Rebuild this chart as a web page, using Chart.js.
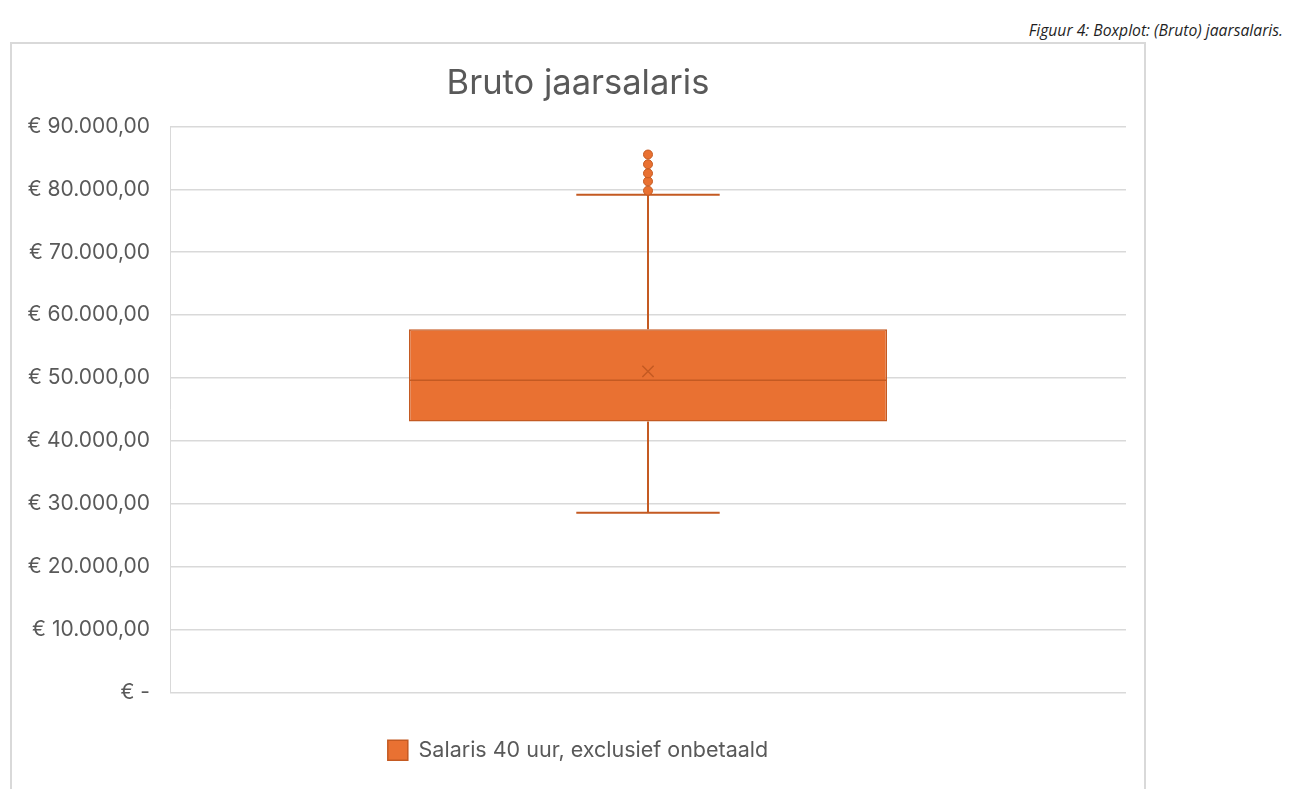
<!DOCTYPE html>
<html>
<head>
<meta charset="utf-8">
<script src="https://cdn.jsdelivr.net/npm/chart.js@4.4.1/dist/chart.umd.min.js"></script>
<style>
  html, body { margin: 0; padding: 0; background: #ffffff; width: 1291px; height: 789px; overflow: hidden; }
  #caption { position: absolute; right: 8px; top: 19px; font-family: "Open Sans", "Noto Sans", sans-serif; font-style: italic; font-size: 15.7px; color: #1f1f1f; white-space: nowrap; }
  #frame { position: absolute; left: 10px; top: 42px; width: 1132px; height: 800px; border: 2px solid #d9d9d9; border-bottom: none; }
  #c { position: absolute; left: 0; top: 0; }
</style>
</head>
<body>
<div id="caption">Figuur 4: Boxplot: (Bruto) jaarsalaris.</div>
<div id="frame"><canvas id="c" width="1132" height="747"></canvas></div>
<script>
// ---- data ----
const categories   = ['Salaris 40 uur, exclusief onbetaald'];
const whiskerMin   = [28560];
const quartile1    = [43080];
const medianValues = [49630];
const quartile3    = [57760];
const whiskerMax   = [79150];
const meanValues   = [51060];
const outlierValues = [79780, 81270, 82540, 83980, 85530];
const yTickValues  = [0, 10000, 20000, 30000, 40000, 50000, 60000, 70000, 80000, 90000];
const chartTitle   = 'Bruto jaarsalaris';

const FONT = 'Inter, "Open Sans", "Noto Sans", sans-serif';
const ORANGE = '#E97132';
const DARK = '#C45A22';
const TEXT = '#595959';

function euro(v) {
  if (v === 0) return '€ -';
  const parts = v.toFixed(2).split('.');
  const intPart = parts[0].replace(/\B(?=(\d{3})+(?!\d))/g, '.');
  return '€ ' + intPart + ',' + parts[1];
}

const boxPlugin = {
  id: 'boxParts',
  afterDatasetDraw(chart, args) {
    if (args.index !== 0) return;
    const ctx = chart.ctx;
    const xs = chart.scales.x, ys = chart.scales.y;
    const catW = xs.width / categories.length;
    const meta = chart.getDatasetMeta(0);
    ctx.save();
    categories.forEach((c, i) => {
      const bar = meta.data[i];
      const cx = xs.getPixelForValue(i);
      const half = bar.width / 2;
      const capHalf = catW * 0.075;
      const yMin = ys.getPixelForValue(whiskerMin[i]);
      const yQ1 = ys.getPixelForValue(quartile1[i]);
      const yMed = ys.getPixelForValue(medianValues[i]);
      const yQ3 = ys.getPixelForValue(quartile3[i]);
      const yMax = ys.getPixelForValue(whiskerMax[i]);
      ctx.strokeStyle = DARK;
      ctx.lineWidth = 2;
      ctx.beginPath();
      ctx.moveTo(cx, yQ3); ctx.lineTo(cx, yMax);
      ctx.moveTo(cx, yQ1); ctx.lineTo(cx, yMin);
      ctx.moveTo(cx - capHalf, yMax); ctx.lineTo(cx + capHalf, yMax);
      ctx.moveTo(cx - capHalf, yMin); ctx.lineTo(cx + capHalf, yMin);
      ctx.stroke();
      ctx.lineWidth = 1.5;
      ctx.beginPath();
      ctx.moveTo(cx - half, yMed); ctx.lineTo(cx + half, yMed);
      ctx.stroke();
    });
    ctx.restore();
  }
};

new Chart(document.getElementById('c'), {
  data: {
    labels: categories,
    datasets: [
      {
        type: 'bar',
        label: categories[0],
        data: categories.map((c, i) => [quartile1[i], quartile3[i]]),
        backgroundColor: ORANGE,
        borderColor: DARK,
        borderWidth: 1.5,
        borderSkipped: false,
        barPercentage: 0.5,
        categoryPercentage: 1,
        order: 2
      },
      {
        type: 'line',
        label: 'mean',
        data: categories.map((c, i) => ({ x: c, y: meanValues[i] })),
        showLine: false,
        pointStyle: 'crossRot',
        pointRadius: 8,
        pointBorderColor: DARK,
        pointBorderWidth: 1.5,
        pointBackgroundColor: DARK,
        order: 1
      },
      {
        type: 'line',
        label: 'outliers',
        data: outlierValues.map(v => ({ x: categories[0], y: v })),
        showLine: false,
        pointStyle: 'circle',
        pointRadius: 4.5,
        pointBackgroundColor: ORANGE,
        pointBorderColor: DARK,
        pointBorderWidth: 1,
        order: 0
      }
    ]
  },
  options: {
    responsive: false,
    animation: false,
    devicePixelRatio: 1,
    layout: { padding: { left: 0, right: 0, top: 0, bottom: 20 } },
    scales: {
      x: {
        type: 'category',
        offset: true,
        grid: { display: false },
        border: { display: false },
        ticks: { display: false },
        afterFit(s) { s.height = 37; }
      },
      y: {
        min: 0, max: 90000,
        afterBuildTicks(s) { s.ticks = yTickValues.map(v => ({ value: v })); },
        afterFit(s) { s.width = 158; },
        grid: { color: '#d9d9d9', lineWidth: 1.5, drawTicks: false },
        border: { display: true, color: '#d9d9d9', width: 1 },
        ticks: {
          padding: 20,
          color: TEXT,
          font: { family: FONT, size: 21 },
          callback: v => euro(v)
        }
      },
      yRight: {
        position: 'right',
        display: true,
        grid: { display: false, drawTicks: false },
        border: { display: false },
        ticks: { display: false },
        afterFit(s) { s.width = 18; }
      }
    },
    plugins: {
      title: {
        display: true,
        text: chartTitle,
        color: TEXT,
        font: { family: FONT, size: 34.5, weight: 'normal' },
        padding: { top: 19, bottom: 22 }
      },
      legend: {
        position: 'bottom',
        labels: {
          filter: item => item.datasetIndex === 0,
          boxWidth: 20,
          boxHeight: 20,
          color: TEXT,
          font: { family: FONT, size: 21.5 },
          padding: 10
        }
      },
      tooltip: { enabled: false }
    }
  },
  plugins: [boxPlugin]
});
</script>
</body>
</html>
